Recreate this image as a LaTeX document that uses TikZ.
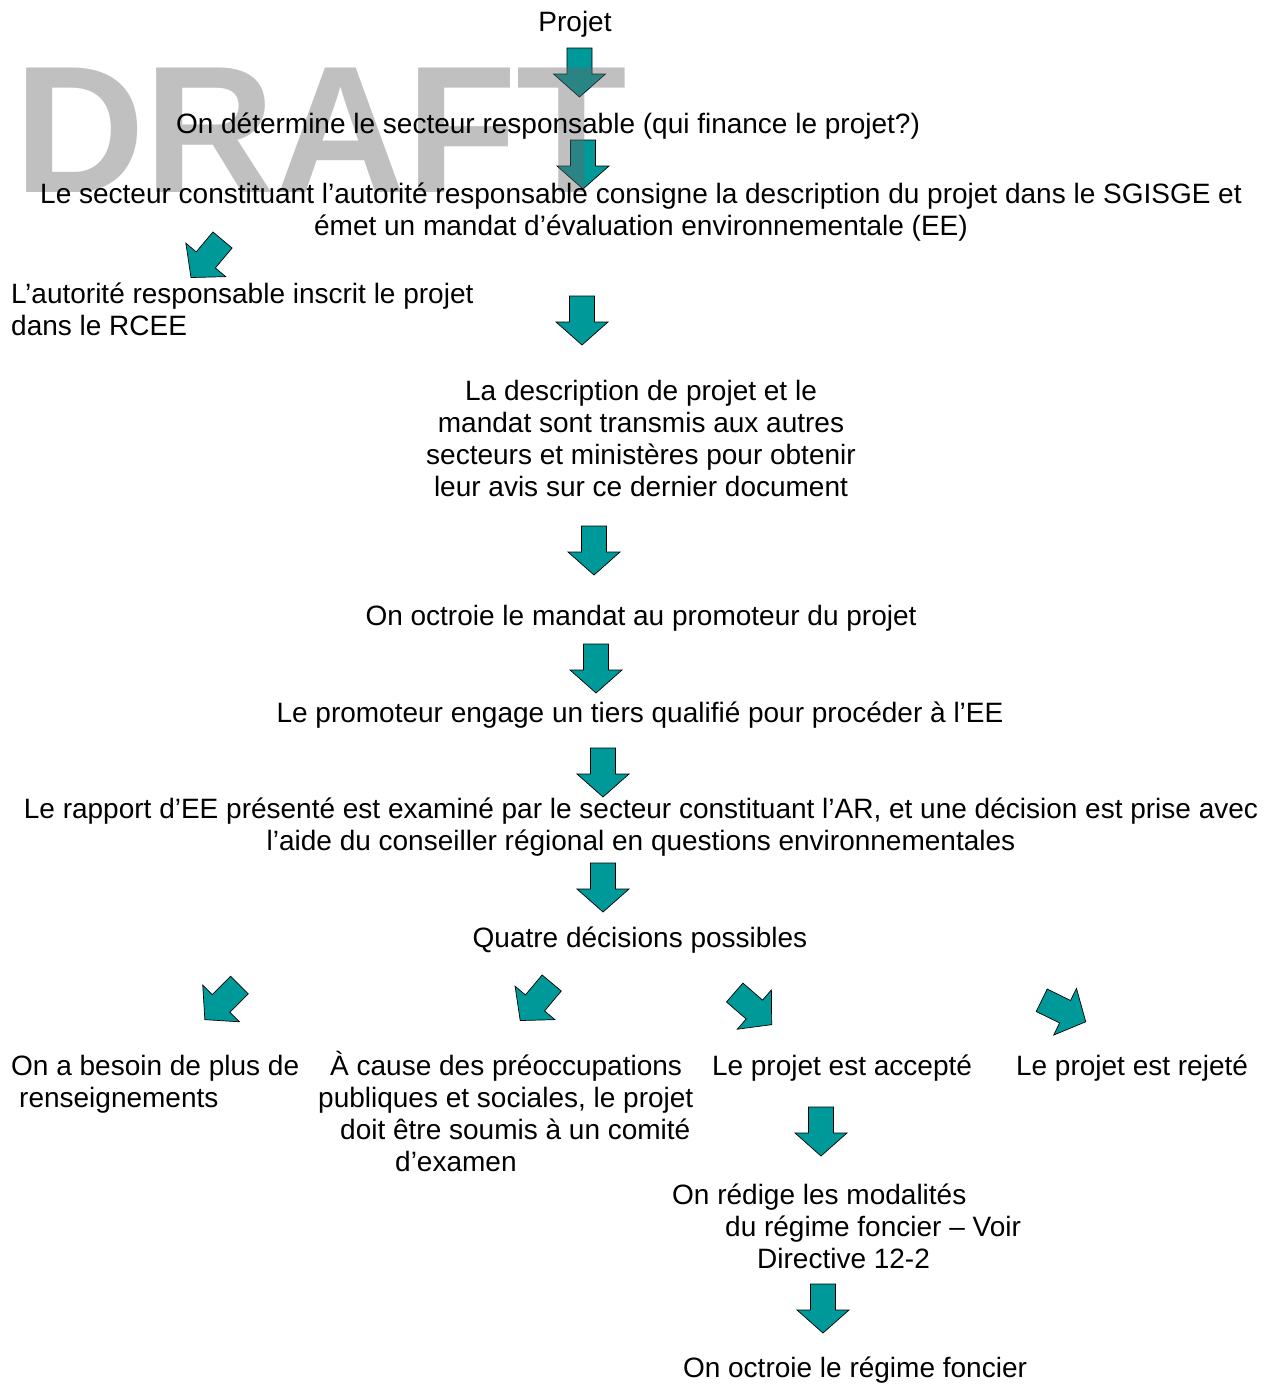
\documentclass[tikz,border=0pt]{standalone}
\usepackage{fontspec}
\setmainfont{Liberation Sans}
\definecolor{teal0}{RGB}{0,153,153}
\newcommand{\barrow}[3]{\draw[blockarr, shift={(#1,#2)}, rotate=#3] (-12.5,0) -- (12.5,0) -- (12.5,26) -- (26,26) -- (0,49) -- (-26,26) -- (-12.5,26) -- cycle;}
\begin{document}
\begin{tikzpicture}[x=1pt,y=-1pt,
  txt/.style={inner sep=0pt, font=\fontsize{28}{32}\selectfont, text=black},
  blockarr/.style={fill=teal0, draw=black, line width=0.7pt, line join=miter}]
\useasboundingbox (0,0) rectangle (1270,1384);
\fill[white] (0,0) rectangle (1270,1384);
% block arrows
\barrow{579.5}{48}{0}
\barrow{583}{140}{0}
\barrow{222.5}{240}{-40}
\barrow{582}{296}{0}
\barrow{594}{526}{0}
\barrow{596}{644}{0}
\barrow{603}{748}{0}
\barrow{603}{863}{0}
\barrow{239.5}{985}{-45}
\barrow{551.7}{983}{-40}
\barrow{734.7}{992.5}{49}
\barrow{1041.7}{1000.3}{64}
\barrow{821}{1107}{0}
\barrow{823}{1284}{0}
% watermark
\node[anchor=base west, inner sep=0pt, font=\fontsize{181}{181}\selectfont\bfseries, text=black!60, text opacity=0.41] (wm) at (14,192) {DRAFT};
% texts
\node[txt, anchor=base] (projet) at (575,31) {Projet};
\node[txt, anchor=base] (secteur) at (548,133) {On détermine le secteur responsable (qui finance le projet?)};
\node[txt, anchor=base, align=center] (consigne) at (641,235) {Le secteur constituant l’autorité responsable consigne la description du projet dans le SGISGE et\\émet un mandat d’évaluation environnementale (EE)};
\node[txt, anchor=base west, align=left] (rcee) at (11,335) {L’autorité responsable inscrit le projet\\dans le RCEE};
\node[txt, anchor=base, align=center] (descr) at (641,496) {La description de projet et le\\mandat sont transmis aux autres\\secteurs et ministères pour obtenir\\leur avis sur ce dernier document};
\node[txt, anchor=base] (octroie) at (641,625) {On octroie le mandat au promoteur du projet};
\node[txt, anchor=base] (tiers) at (640,722) {Le promoteur engage un tiers qualifié pour procéder à l’EE};
\node[txt, anchor=base, align=center] (rapport) at (641,850) {Le rapport d’EE présenté est examiné par le secteur constituant l’AR, et une décision est prise avec\\l’aide du conseiller régional en questions environnementales};
\node[txt, anchor=base] (quatre) at (640,947) {Quatre décisions possibles};
\node[txt, anchor=base west, align=left] (besoin) at (11,1107) {On a besoin de plus de\\\hspace*{8pt}renseignements};
\node[txt, anchor=base west, align=left] (comite) at (318,1171) {\hspace*{12pt}À cause des préoccupations\\publiques et sociales, le projet\\\hspace*{22pt}doit être soumis à un comité\\\hspace*{77pt}d’examen};
\node[txt, anchor=base] (accepte) at (842,1075) {Le projet est accepté};
\node[txt, anchor=base] (rejete) at (1132,1075) {Le projet est rejeté};
\node[txt, anchor=base west, align=left] (modal) at (672,1268) {On rédige les modalités\\\hspace*{53pt}du régime foncier – Voir\\\hspace*{85pt}Directive 12-2};
\node[txt, anchor=base] (foncier) at (855,1377) {On octroie le régime foncier};
\end{tikzpicture}
\end{document}
